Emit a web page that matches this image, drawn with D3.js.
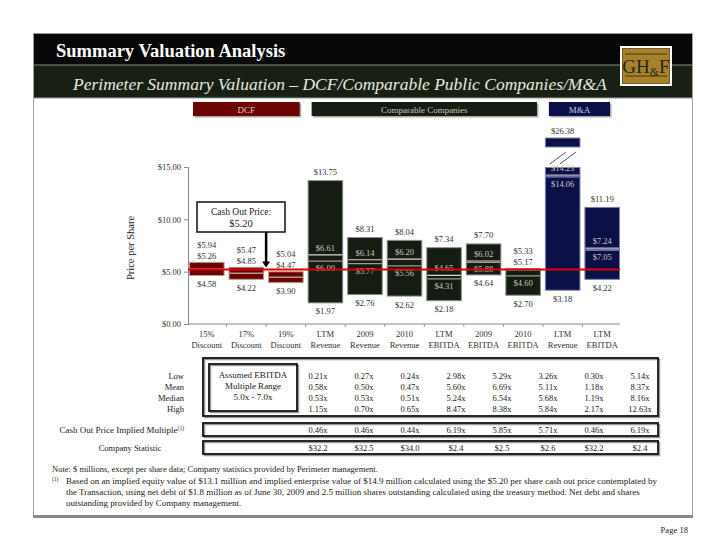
<!DOCTYPE html>
<html><head><meta charset="utf-8">
<script src="https://cdn.jsdelivr.net/npm/d3@7"></script>
<style>
body{margin:0;background:#fff;}
svg{display:block;}
text{font-family:"Liberation Serif","Times New Roman",serif;}
</style>
</head><body>
<svg id="c" width="720" height="556"></svg>
<script>
// ---------------- DATA ----------------
const categoriesTop    = ["15%","17%","19%","LTM","2009","2010","LTM","2009","2010","LTM","LTM"];
const categoriesBottom = ["Discount","Discount","Discount","Revenue","Revenue","Revenue","EBITDA","EBITDA","EBITDA","Revenue","EBITDA"];
const groups           = ["DCF","DCF","DCF","Comp","Comp","Comp","Comp","Comp","Comp","MA","MA"];
const lowPrice    = [4.58,4.22,3.90,1.97,2.76,2.62,2.18,4.64,2.70,3.18,4.22];
const highPrice   = [5.94,5.47,5.04,13.75,8.31,8.04,7.34,7.70,5.33,26.38,11.19];
const midPrice    = [5.26,4.85,4.47,null,null,null,null,null,null,null,null];
const meanPrice   = [null,null,null,6.61,5.77,5.56,4.65,6.02,4.60,14.06,7.24];
const medianPrice = [null,null,null,6.00,6.14,6.20,4.31,5.88,5.17,14.23,7.05];
const cashOutPrice = 5.20;
const yTicks = [0,5,10,15];
const yMax = 15;
const sectionNames = ["DCF","Comparable Companies","M&A"];
const sectionKeys  = ["DCF","Comp","MA"];

const rowLabels  = ["Low","Mean","Median","High"];
const multLow    = ["0.21x","0.27x","0.24x","2.98x","5.29x","3.26x","0.30x","5.14x"];
const multMean   = ["0.58x","0.50x","0.47x","5.60x","6.69x","5.11x","1.18x","8.37x"];
const multMedian = ["0.53x","0.53x","0.51x","5.24x","6.54x","5.68x","1.19x","8.16x"];
const multHigh   = ["1.15x","0.70x","0.65x","8.47x","8.38x","5.84x","2.17x","12.63x"];
const impliedMult = ["0.46x","0.46x","0.44x","6.19x","5.85x","5.71x","0.46x","6.19x"];
const companyStat = ["$32.2","$32.5","$34.0","$2.4","$2.5","$2.6","$32.2","$2.4"];
const ebitdaBoxLines = ["Assumed EBITDA","Multiple Range","5.0x - 7.0x"];

// ---------------- STYLE ----------------
const fills   = {DCF:"#6c0303", Comp:"#151c12", MA:"#0c1048"};
const strokes = {DCF:"#b8a090", Comp:"#8e9088", MA:"#7c82a8"};
const hdrText = {DCF:"#dccfc8", Comp:"#c4c8bc", MA:"#c8cce0"};

const svg = d3.select("#c");

// ---------------- FRAME / HEADER ----------------
svg.append("rect").attr("x",33).attr("y",33).attr("width",660).attr("height",32).attr("fill","#070707");
svg.append("rect").attr("x",33).attr("y",65).attr("width",660).attr("height",33).attr("fill","#172013");
svg.append("line").attr("x1",33).attr("x2",693).attr("y1",65).attr("y2",65).attr("stroke","#8a8a8a").attr("stroke-width",1);
svg.append("line").attr("x1",33).attr("x2",693).attr("y1",98).attr("y2",98).attr("stroke","#9a9a9a").attr("stroke-width",1);
svg.append("line").attr("x1",33.5).attr("x2",33.5).attr("y1",33).attr("y2",517).attr("stroke","#a0a0a0");
svg.append("line").attr("x1",692.5).attr("x2",692.5).attr("y1",33).attr("y2",517).attr("stroke","#a0a0a0");
svg.append("line").attr("x1",33).attr("x2",693).attr("y1",516.5).attr("y2",516.5).attr("stroke","#888").attr("stroke-width",3);
svg.append("line").attr("x1",33).attr("x2",693).attr("y1",33.5).attr("y2",33.5).attr("stroke","#999");

svg.append("text").attr("x",56).attr("y",57).attr("fill","#fff")
  .attr("font-size",18.5).attr("font-weight","bold").text("Summary Valuation Analysis");
svg.append("text").attr("x",73).attr("y",90).attr("fill","#e8e8e0")
  .attr("font-size",17.5).attr("font-style","italic")
  .text("Perimeter Summary Valuation \u2013 DCF/Comparable Public Companies/M&A");

// logo
const lg = svg.append("g");
lg.append("rect").attr("x",620).attr("y",46).attr("width",52).attr("height",40).attr("fill","#fff");
lg.append("rect").attr("x",622.5).attr("y",48.5).attr("width",47).attr("height",35).attr("fill","#a8812a").attr("stroke","#5a4510").attr("stroke-width",0.8);
lg.append("line").attr("x1",625).attr("x2",667).attr("y1",54).attr("y2",54).attr("stroke","#1d2a17").attr("stroke-width",0.8);
lg.append("line").attr("x1",625).attr("x2",667).attr("y1",76).attr("y2",76).attr("stroke","#1d2a17").attr("stroke-width",0.8);
const lt = lg.append("text").attr("x",646).attr("y",73).attr("text-anchor","middle").attr("fill","#1d2a17").attr("font-size",19);
lt.append("tspan").text("GH");
lt.append("tspan").attr("font-size",12).attr("dy",3).text("&");
lt.append("tspan").attr("dy",-3).text("F");

// ---------------- SCALES ----------------
const x = d3.scaleBand().domain(d3.range(categoriesTop.length)).range([189,620]).paddingInner(0.1).paddingOuter(0);
const y = d3.scaleLinear().domain([0,yMax]).range([324,167]);
const bw = x.bandwidth();
const cx = i => x(i) + bw/2;

// section headers
sectionKeys.forEach((k,si)=>{
  const idx = groups.map((g,i)=>g===k?i:-1).filter(i=>i>=0);
  const x0 = x(idx[0]) + 4, x1 = x(idx[idx.length-1]) + bw - (k==="MA"?10:4);
  svg.append("rect").attr("x",x0+1.5).attr("y",103.5).attr("width",x1-x0).attr("height",14).attr("fill","#a8a8a8");
  svg.append("rect").attr("x",x0).attr("y",102).attr("width",x1-x0).attr("height",14).attr("fill",fills[k]);
  svg.append("text").attr("x",(x0+x1)/2).attr("y",112.5).attr("text-anchor","middle")
    .attr("fill",hdrText[k]).attr("font-size",9).text(sectionNames[si]);
});

// ---------------- AXES ----------------
const yAxis = svg.append("g").attr("transform","translate(188,0)")
  .call(d3.axisLeft(y).tickValues(yTicks).tickSize(4).tickFormat(d=>"$"+d.toFixed(2)));
yAxis.select(".domain").attr("stroke","#888");
yAxis.selectAll(".tick line").attr("stroke","#888");
yAxis.selectAll(".tick text").attr("fill","#333").attr("font-size",8.5).attr("font-family","Liberation Serif, serif");

const xAxis = svg.append("g").attr("transform","translate(0,324)")
  .call(d3.axisBottom(x).tickSize(0).tickFormat(""));
xAxis.select(".domain").attr("stroke","#888").attr("d","M188,0H620");
svg.append("g").selectAll("line").data(d3.range(1,categoriesTop.length)).join("line")
  .attr("x1",i=>x(i)-(x.step()-bw)/2).attr("x2",i=>x(i)-(x.step()-bw)/2)
  .attr("y1",324).attr("y2",327).attr("stroke","#999");

const xl = svg.append("g").attr("fill","#333").attr("font-size",8.5);
xl.selectAll("text.t").data(categoriesTop).join("text").attr("class","t")
  .attr("x",(d,i)=>cx(i)).attr("y",337).attr("text-anchor","middle").text(d=>d);
xl.selectAll("text.b").data(categoriesBottom).join("text").attr("class","b")
  .attr("x",(d,i)=>cx(i)).attr("y",348).attr("text-anchor","middle").text(d=>d);

svg.append("text").attr("transform","translate(134,248) rotate(-90)").attr("text-anchor","middle")
  .attr("fill","#222").attr("font-size",10.5).text("Price per Share");

// ---------------- BARS ----------------
const fmt = v => "$" + v.toFixed(2);
const bars = svg.append("g");
const labelsOut = svg.append("g").attr("fill","#333").attr("font-size",8.5).attr("text-anchor","middle");
const labelsIn  = svg.append("g").attr("fill","#c8c8c0").attr("font-size",8.5).attr("text-anchor","middle");

categoriesTop.forEach((c,i)=>{
  const g = groups[i];
  const broken = highPrice[i] > yMax;
  const topV = broken ? yMax : highPrice[i];
  const x0 = x(i);
  bars.append("rect").attr("x",x0+0.5).attr("y",y(topV)+0.5).attr("width",bw-1).attr("height",y(lowPrice[i])-y(topV)-1)
    .attr("fill",fills[g]).attr("stroke",strokes[g]).attr("stroke-width",1);
  labelsOut.append("text").attr("x",cx(i)).attr("y",y(lowPrice[i])+11).text(fmt(lowPrice[i]));
  if (g==="DCF") {
    bars.append("line").attr("x1",x0+1).attr("x2",x0+bw-1).attr("y1",y(midPrice[i])).attr("y2",y(midPrice[i]))
      .attr("stroke","#b49a92").attr("stroke-width",1.5);
    labelsOut.append("text").attr("x",cx(i)).attr("y",y(topV)-14).text(fmt(highPrice[i]));
    labelsOut.append("text").attr("x",cx(i)).attr("y",y(topV)-3).text(fmt(midPrice[i]));
    return;
  }
  const up = Math.max(meanPrice[i],medianPrice[i]), lo = Math.min(meanPrice[i],medianPrice[i]);
  const lineCol = g==="MA" ? "#b4b8d0" : "#d8d8cc";
  const line2Col = g==="MA" ? "#8a8eb0" : "#9a9c90";
  if (g==="MA" && !broken) {
    bars.append("rect").attr("x",x0+1).attr("width",bw-2).attr("y",y(up)).attr("height",y(lo)-y(up)).attr("fill","#5a5e84");
  }
  bars.append("line").attr("x1",x0+1).attr("x2",x0+bw-1).attr("y1",y(up)).attr("y2",y(up)).attr("stroke",lineCol).attr("stroke-width",1.2);
  bars.append("line").attr("x1",x0+1).attr("x2",x0+bw-1).attr("y1",y(lo)).attr("y2",y(lo)).attr("stroke",line2Col).attr("stroke-width",1.2);

  const room = y(up) - y(topV);
  if (broken) {
    const yb = y(yMax);
    bars.append("rect").attr("x",x0+0.5).attr("y",yb-29).attr("width",bw-1).attr("height",9)
      .attr("fill",fills[g]).attr("stroke",strokes[g]);
    bars.append("line").attr("x1",x0+5).attr("x2",x0+21).attr("y1",yb-3).attr("y2",yb-15).attr("stroke","#222").attr("stroke-width",0.8);
    bars.append("line").attr("x1",x0+15).attr("x2",x0+31).attr("y1",yb-3).attr("y2",yb-15).attr("stroke","#222").attr("stroke-width",0.8);
    labelsOut.append("text").attr("x",cx(i)).attr("y",yb-33).text(fmt(highPrice[i]));
    labelsIn.append("text").attr("x",cx(i)).attr("y",y(up)-4).text(fmt(up));
  } else if (room < 10) {
    labelsOut.append("text").attr("x",cx(i)).attr("y",y(topV)-14).text(fmt(highPrice[i]));
    labelsOut.append("text").attr("x",cx(i)).attr("y",y(topV)-3).text(fmt(up));
  } else {
    labelsOut.append("text").attr("x",cx(i)).attr("y",y(topV)-5).text(fmt(highPrice[i]));
    labelsIn.append("text").attr("x",cx(i)).attr("y",y(up)-4).text(fmt(up));
  }
  labelsIn.append("text").attr("x",cx(i)).attr("y",y(lo)+10).text(fmt(lo));
});

// cash out line
svg.append("line").attr("x1",188).attr("x2",620).attr("y1",y(cashOutPrice)).attr("y2",y(cashOutPrice))
  .attr("stroke","#e00000").attr("stroke-width",2);

// cash out callout
const ax = x(2) - (x.step()-bw)/2;
svg.append("rect").attr("x",197).attr("y",202).attr("width",88).attr("height",30).attr("fill","#fff").attr("stroke","#111").attr("stroke-width",1.5);
svg.append("text").attr("x",241).attr("y",215).attr("text-anchor","middle").attr("font-size",9.5).attr("fill","#222").text("Cash Out Price:");
svg.append("text").attr("x",241).attr("y",227).attr("text-anchor","middle").attr("font-size",10.5).attr("fill","#222").text(fmt(cashOutPrice));
svg.append("line").attr("x1",ax).attr("x2",ax).attr("y1",232).attr("y2",y(cashOutPrice)-7).attr("stroke","#000").attr("stroke-width",2.5);
svg.append("path").attr("d",`M${ax-4},${y(cashOutPrice)-8}L${ax+4},${y(cashOutPrice)-8}L${ax},${y(cashOutPrice)-2}Z`).attr("fill","#000");

// ---------------- TABLE ----------------
const tx = d3.scalePoint().domain(d3.range(multLow.length)).range([318,640]);
const rowY = d3.scalePoint().domain(d3.range(4)).range([379,412]);
const tbl = svg.append("g").attr("font-size",8.5).attr("fill","#222");
function box(x0,y0,w,h){
  svg.append("rect").attr("x",x0+1.5).attr("y",y0+1.5).attr("width",w).attr("height",h).attr("fill","none").attr("stroke","#999").attr("stroke-width",1.5);
  svg.append("rect").attr("x",x0).attr("y",y0).attr("width",w).attr("height",h).attr("fill","none").attr("stroke","#111").attr("stroke-width",1.8);
}
box(203,358,455,58);
box(209,364,88,47);
ebitdaBoxLines.forEach((t,k)=>tbl.append("text").attr("x",253).attr("y",rowY(k)-1).attr("text-anchor","middle").attr("font-size",9).text(t));
rowLabels.forEach((t,k)=>tbl.append("text").attr("x",184).attr("y",rowY(k)).attr("text-anchor","end").text(t));
[multLow,multMean,multMedian,multHigh].forEach((arr,k)=>{
  tbl.selectAll(null).data(arr).join("text").attr("x",(d,j)=>tx(j)).attr("y",rowY(k)).attr("text-anchor","middle").text(d=>d);
});
box(203,423,455,13);
const ct = tbl.append("text").attr("x",184).attr("y",432.5).attr("text-anchor","end").attr("font-size",9);
ct.append("tspan").text("Cash Out Price Implied Multiple");
ct.append("tspan").attr("font-size",5.5).attr("dy",-3).text("(1)");
tbl.selectAll(null).data(impliedMult).join("text").attr("x",(d,j)=>tx(j)).attr("y",432.5).attr("text-anchor","middle").text(d=>d);
box(203,441,455,13);
tbl.append("text").attr("x",130).attr("y",450.5).attr("text-anchor","middle").text("Company Statistic");
tbl.selectAll(null).data(companyStat).join("text").attr("x",(d,j)=>tx(j)).attr("y",450.5).attr("text-anchor","middle").text(d=>d);

// ---------------- FOOTNOTES ----------------
const fn = svg.append("g").attr("font-size",9).attr("fill","#222");
fn.append("text").attr("x",52).attr("y",472).attr("font-size",8.5).text("Note: $ millions, except per share data; Company statistics provided by Perimeter management.");
fn.append("text").attr("x",52).attr("y",481).attr("font-size",5.5).text("(1)");
fn.append("text").attr("x",66).attr("y",484).text("Based on an implied equity value of $13.1 million and implied enterprise value of $14.9 million calculated using the $5.20 per share cash out price contemplated by");
fn.append("text").attr("x",66).attr("y",495).text("the Transaction, using net debt of $1.8 million as of June 30, 2009 and 2.5 million shares outstanding calculated using the treasury method.  Net debt and shares");
fn.append("text").attr("x",66).attr("y",506).text("outstanding provided by Company management.");
svg.append("text").attr("x",688).attr("y",533).attr("text-anchor","end").attr("font-size",8.6).attr("fill","#222").text("Page 18");
</script>
</body></html>
